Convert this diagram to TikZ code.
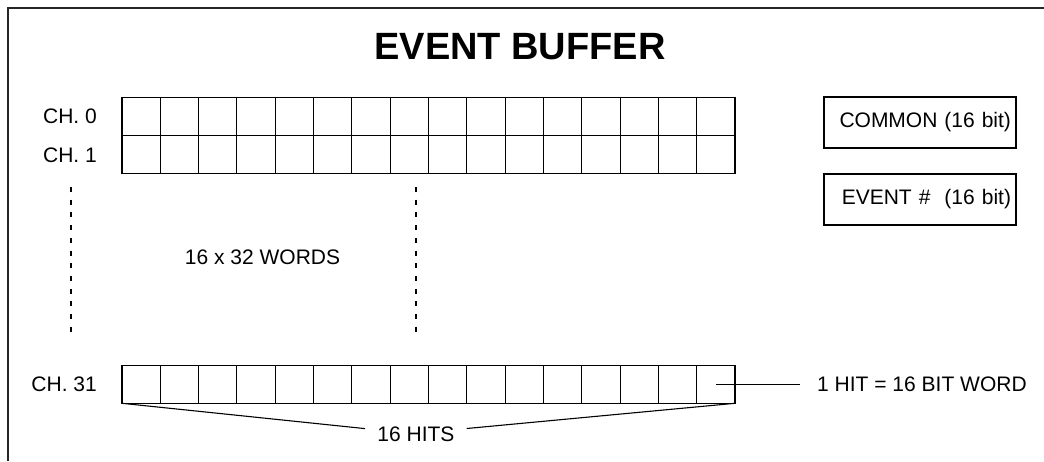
\documentclass[tikz,border=0pt]{standalone}
\usepackage{fontspec}
\setmainfont{Liberation Sans}
\begin{document}
\begin{tikzpicture}[x=1pt,y=-1pt,
  cell/.style={draw=black,line width=1.1pt,minimum width=38.3125pt,minimum height=38pt,inner sep=0pt,outer sep=0pt},
  lbl/.style={inner sep=0pt,font=\fontsize{21}{25}\selectfont},
  infobox/.style={draw=black,line width=1.1pt,minimum height=51pt,text width=182pt,align=right,inner xsep=5pt,inner ysep=0pt,font=\fontsize{21}{25}\selectfont},
  conn/.style={draw=black,line width=1.1pt},
  dashline/.style={draw=black,line width=1.1pt,dash pattern=on 5pt off 7.7pt}]
\useasboundingbox (0,0) rectangle (1044,461);
% frame
\draw[line width=1.8pt,black!85] (8,461) -- (8,8) -- (1044,8);
% title
\node[inner sep=0pt,font=\fontsize{38}{44}\selectfont\bfseries] (title) at (520,46.5) {EVENT BUFFER};
% rows
\foreach \i in {0,...,15}{
  \node[cell] (a\i) at ({122+38.3125*(\i+0.5)},116.5) {};
  \node[cell] (b\i) at ({122+38.3125*(\i+0.5)},154.5) {};
  \node[cell] (c\i) at ({122+38.3125*(\i+0.5)},384.3) {};
}
% channel labels
\node[lbl,anchor=east] (ch0) at (97,116) {CH. 0};
\node[lbl,anchor=east] (ch1) at (97,155) {CH. 1};
\node[lbl,anchor=east] (ch31) at (97,384.5) {CH. 31};
% dashed continuation
\coordinate (d1t) at (71,187); \coordinate (d1b) at (71,333);
\coordinate (d2t) at (416,187); \coordinate (d2b) at (416,333);
\draw[dashline] (d1t) -- (d1b);
\draw[dashline] (d2t) -- (d2b);
\node[lbl] (words) at (262.5,257) {16 x 32 WORDS};
% boxes
\node[infobox] (common) at (920,122.5) {COMMON (16 bit)};
\node[infobox] (evnum) at (920,199.5) {EVENT \#\ \ (16 bit)};
% hit label
\node[lbl,anchor=west] (hit) at (817,384.3) {1 HIT = 16 BIT WORD};
\draw[conn,shorten >=17pt] (c15.center) -- (hit.west);
% 16 hits
\node[lbl] (hits) at (416,434.5) {16 HITS};
\coordinate (hl) at (365,428.6);
\coordinate (hr) at (466.7,428.5);
\draw[conn] (c0.south west) -- (hl);
\draw[conn] (c15.south east) -- (hr);
\end{tikzpicture}
\end{document}
